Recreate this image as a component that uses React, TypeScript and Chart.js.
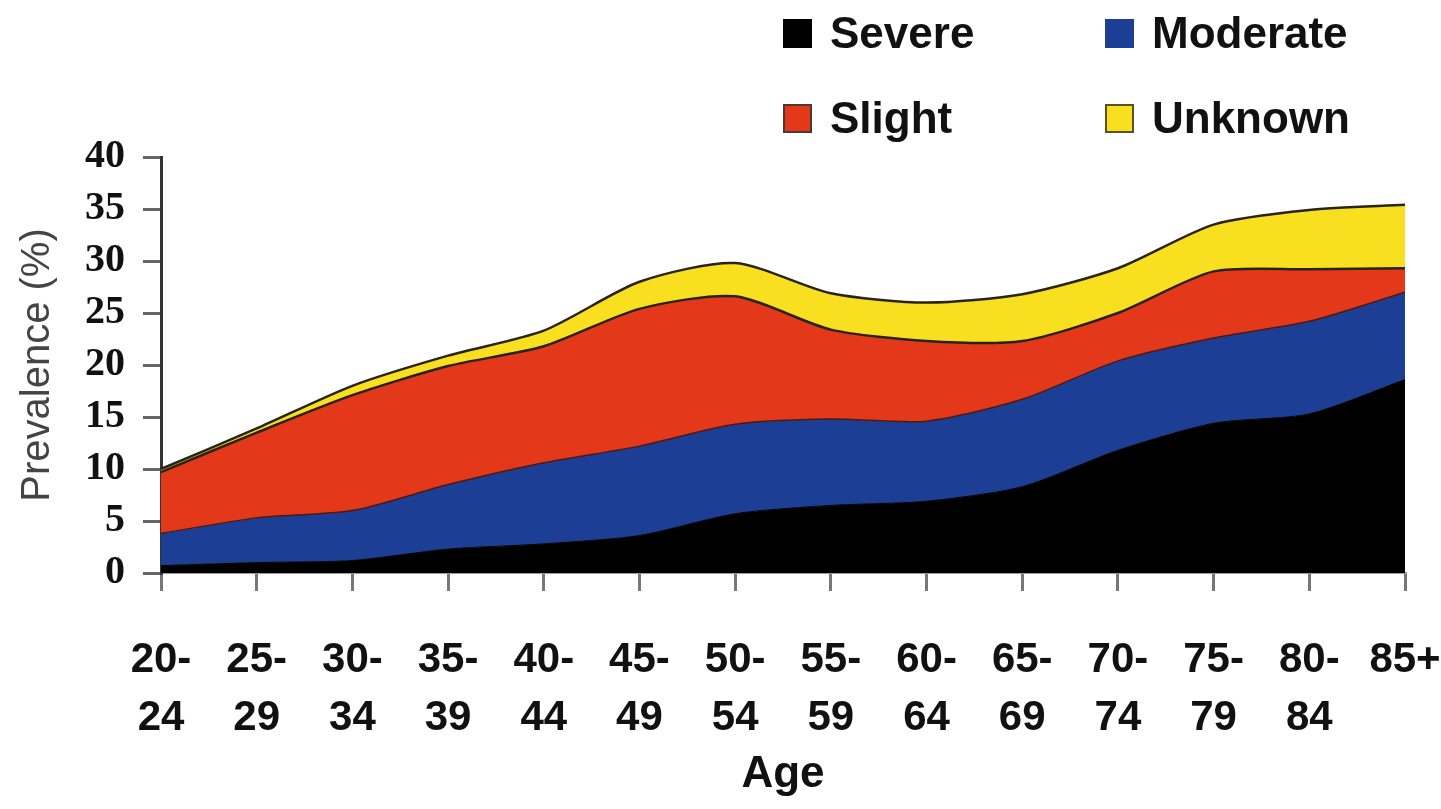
import React, { useEffect, useRef } from "react";
import { Chart, registerables } from "chart.js";

Chart.register(...registerables);

const categories: (string | string[])[] = [
  ["20-", "24"], ["25-", "29"], ["30-", "34"], ["35-", "39"], ["40-", "44"],
  ["45-", "49"], ["50-", "54"], ["55-", "59"], ["60-", "64"], ["65-", "69"],
  ["70-", "74"], ["75-", "79"], ["80-", "84"], ["85+"],
];
const severe = [0.7, 1.0, 1.2, 2.3, 2.8, 3.6, 5.7, 6.5, 6.9, 8.3, 11.8, 14.4, 15.3, 18.6];
const moderate = [3.1, 4.3, 4.8, 6.2, 7.8, 8.6, 8.6, 8.3, 7.7, 8.4, 8.6, 8.2, 8.9, 8.4];
const slight = [5.9, 8.2, 11.1, 11.4, 11.2, 13.2, 12.3, 8.6, 7.7, 5.6, 4.6, 6.4, 5.0, 2.3];
const unknown = [0.3, 0.4, 0.9, 1.0, 1.5, 2.6, 3.2, 3.5, 3.7, 4.5, 4.3, 4.5, 5.7, 6.1];
const yTicks = [0, 5, 10, 15, 20, 25, 30, 35, 40];

const legendItems = [
  { label: "Severe", color: "#000000", border: "#000000" },
  { label: "Moderate", color: "#1c3f95", border: "#1c3f95" },
  { label: "Slight", color: "#e3381a", border: "#4a3a30" },
  { label: "Unknown", color: "#f8e020", border: "#5a5020" },
];

export default function App() {
  const ref = useRef<HTMLCanvasElement | null>(null);
  useEffect(() => {
    if (!ref.current) return;
    const chart = new Chart(ref.current, {
      type: "line",
      data: {
        labels: categories,
        datasets: [
          { label: "Severe", data: severe, backgroundColor: "#000000", borderColor: "#000000", borderWidth: 1, fill: "origin" },
          { label: "Moderate", data: moderate, backgroundColor: "#1c3f95", borderColor: "#4a1a14", borderWidth: 1.5, fill: "-1" },
          { label: "Slight", data: slight, backgroundColor: "#e3381a", borderColor: "#2a2218", borderWidth: 2.5, fill: "-1" },
          { label: "Unknown", data: unknown, backgroundColor: "#f8e020", borderColor: "#2a2418", borderWidth: 2.5, fill: "-1" },
        ],
      },
      options: {
        responsive: false,
        animation: false,
        elements: { point: { radius: 0, hoverRadius: 0 }, line: { tension: 0.25 } },
        layout: { padding: { left: 0, right: 36, top: 157, bottom: 0 } },
        plugins: { legend: { display: false }, tooltip: { enabled: false } },
        scales: {
          x: {
            offset: false,
            grid: { display: true, drawOnChartArea: false, drawTicks: true, tickLength: 18, tickColor: "#777", lineWidth: 3 },
            border: { display: true, color: "#999", width: 2 },
            ticks: {
              color: "#111",
              padding: 40,
              maxRotation: 0,
              autoSkip: false,
              font: { family: "'Liberation Sans', Arial, sans-serif", size: 42, weight: "bold", lineHeight: 1.38 },
            },
            title: {
              display: true,
              text: "Age",
              color: "#111",
              font: { family: "'Liberation Sans', Arial, sans-serif", size: 44, weight: "bold", lineHeight: 1.2 },
              padding: { top: 0, bottom: 8 },
            },
            afterFit: (scale: any) => {
              scale.height = 236;
              scale.paddingLeft = 0;
              scale.paddingRight = 0;
            },
          },
          y: {
            stacked: true,
            min: 0,
            max: 40,
            afterBuildTicks: (scale: any) => { scale.ticks = yTicks.map((v) => ({ value: v })); },
            grid: { display: true, drawOnChartArea: false, drawTicks: true, tickLength: 18, tickColor: "#666", lineWidth: 3 },
            border: { display: true, color: "#333", width: 3 },
            ticks: {
              color: "#111",
              padding: 18,
              font: { family: "'Liberation Serif', 'Times New Roman', serif", size: 40, weight: "bold" },
            },
            title: {
              display: true,
              text: "Prevalence (%)",
              color: "#444",
              font: { family: "'Liberation Sans', Arial, sans-serif", size: 40, lineHeight: 1.2 },
              padding: { top: 14, bottom: 0 },
            },
            afterFit: (scale: any) => {
              scale.width = 161;
              scale.paddingTop = 0;
              scale.paddingBottom = 0;
            },
          },
        },
      },
    });
    return () => chart.destroy();
  }, []);

  const legendPos = [
    { left: 783, top: 18 },
    { left: 1105, top: 18 },
    { left: 783, top: 103 },
    { left: 1105, top: 103 },
  ];

  return (
    <div style={{ position: "fixed", left: 0, top: 0, width: 1441, height: 809, background: "#fff" }}>
      <canvas ref={ref} width={1441} height={809} style={{ position: "absolute", left: 0, top: 0, width: 1441, height: 809 }} />
      {legendItems.map((it, i) => (
        <div
          key={it.label}
          style={{
            position: "absolute",
            left: legendPos[i].left,
            top: legendPos[i].top - 8,
            height: 46,
            display: "flex",
            alignItems: "center",
            fontFamily: "'Liberation Sans', Arial, sans-serif",
            fontWeight: "bold",
            fontSize: 44,
            color: "#111",
            whiteSpace: "nowrap",
          }}
        >
          <span
            style={{
              display: "inline-block",
              width: 25,
              height: 25,
              background: it.color,
              border: `2px solid ${it.border}`,
              marginRight: 18,
            }}
          />
          <span>{it.label}</span>
        </div>
      ))}
    </div>
  );
}
